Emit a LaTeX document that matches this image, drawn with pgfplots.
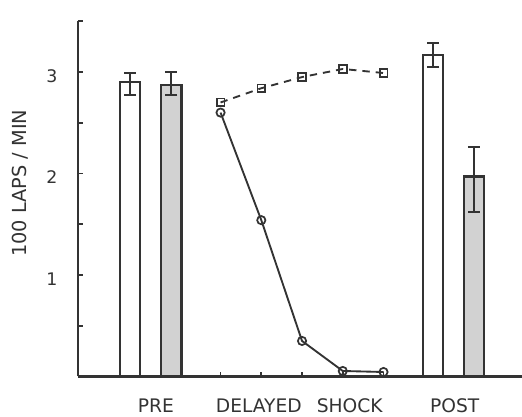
\documentclass[border=0pt]{standalone}
\usepackage{pgfplots}
\usepackage{pgfplotstable}
\pgfplotsset{compat=1.18}
\usepackage{fontspec}
\setmainfont{DejaVu Sans}

\definecolor{ink}{HTML}{333333}
\definecolor{shade}{HTML}{D2D2D2}

% bars: value, upper and lower error
\pgfplotstableread{
x    y    ep   em
1.28 2.90 0.09 0.13
8.72 3.17 0.12 0.12
}\whitebars
\pgfplotstableread{
x    y    ep   em
2.29 2.87 0.13 0.10
9.72 1.97 0.29 0.35
}\graybars
% delayed-shock sessions
\pgfplotstableread{
x   y
3.5 2.60
4.5 1.54
5.5 0.35
6.5 0.054
7.5 0.044
}\shockline
\pgfplotstableread{
x   y
3.5 2.70
4.5 2.84
5.5 2.95
6.5 3.03
7.5 2.99
}\controlline

\begin{document}
\begin{tikzpicture}
\useasboundingbox (0,0) rectangle (391.5pt,312.75pt);
\begin{axis}[
  at={(58.5pt,30.4pt)}, anchor=south west,
  scale only axis, width=333pt, height=266.4pt,
  xmin=0, xmax=10.9, ymin=0, ymax=3.5,
  axis lines=left,
  axis line style={-, line width=1.6pt, ink},
  tick align=inside,
  major tick length=3.5pt,
  tick style={line width=1.3pt, ink},
  xtick={3.5,4.5,5.5,6.5,7.5},
  xticklabels={},
  extra x ticks={1.91,4.44,6.67,9.25},
  extra x tick labels={PRE,DELAYED,SHOCK,POST},
  extra x tick style={major tick length=0pt,
    tick label style={yshift=-16pt, text=ink, text height=10.5pt,
      text depth=0pt, inner ysep=0pt,
      font=\fontsize{14}{16}\selectfont}},
  ytick={0.5,1,1.5,2,2.5,3,3.5},
  yticklabels={{},1,{},2,{},3,{}},
  yticklabel style={xshift=-12pt, yshift=-3pt, text=ink,
    font=\fontsize{13}{15}\selectfont},
  /pgf/number format/assume math mode=true,
  ylabel={100 LAPS / MIN},
  ylabel style={at={(axis description cs:-0.13,0.544)}, anchor=center,
    text=ink, font=\fontsize{14.5}{16}\selectfont},
  clip=false,
]
\addplot[ybar, bar width=0.5, bar shift=0pt, draw=ink, line width=1.6pt,
  fill=white,
  error bars/.cd, y dir=both, y explicit,
  error bar style={line width=1.4pt, ink},
  error mark options={rotate=90, mark size=4.5pt, line width=1.4pt, ink}]
  table[x=x, y=y, y error plus=ep, y error minus=em] {\whitebars};
\addplot[ybar, bar width=0.5, bar shift=0pt, draw=ink, line width=1.6pt,
  fill=shade,
  error bars/.cd, y dir=both, y explicit,
  error bar style={line width=1.4pt, ink},
  error mark options={rotate=90, mark size=4.5pt, line width=1.4pt, ink}]
  table[x=x, y=y, y error plus=ep, y error minus=em] {\graybars};
\addplot[ink, line width=1.4pt, mark=o, mark size=3.1pt,
  mark options={solid, fill=white, line width=1.3pt}]
  table[x=x, y=y] {\shockline};
\addplot[ink, line width=1.4pt, dash pattern=on 5.5pt off 4.5pt,
  mark=square, mark size=2.9pt,
  mark options={solid, fill=white, line width=1.3pt}]
  table[x=x, y=y] {\controlline};
\end{axis}
\end{tikzpicture}
\end{document}
